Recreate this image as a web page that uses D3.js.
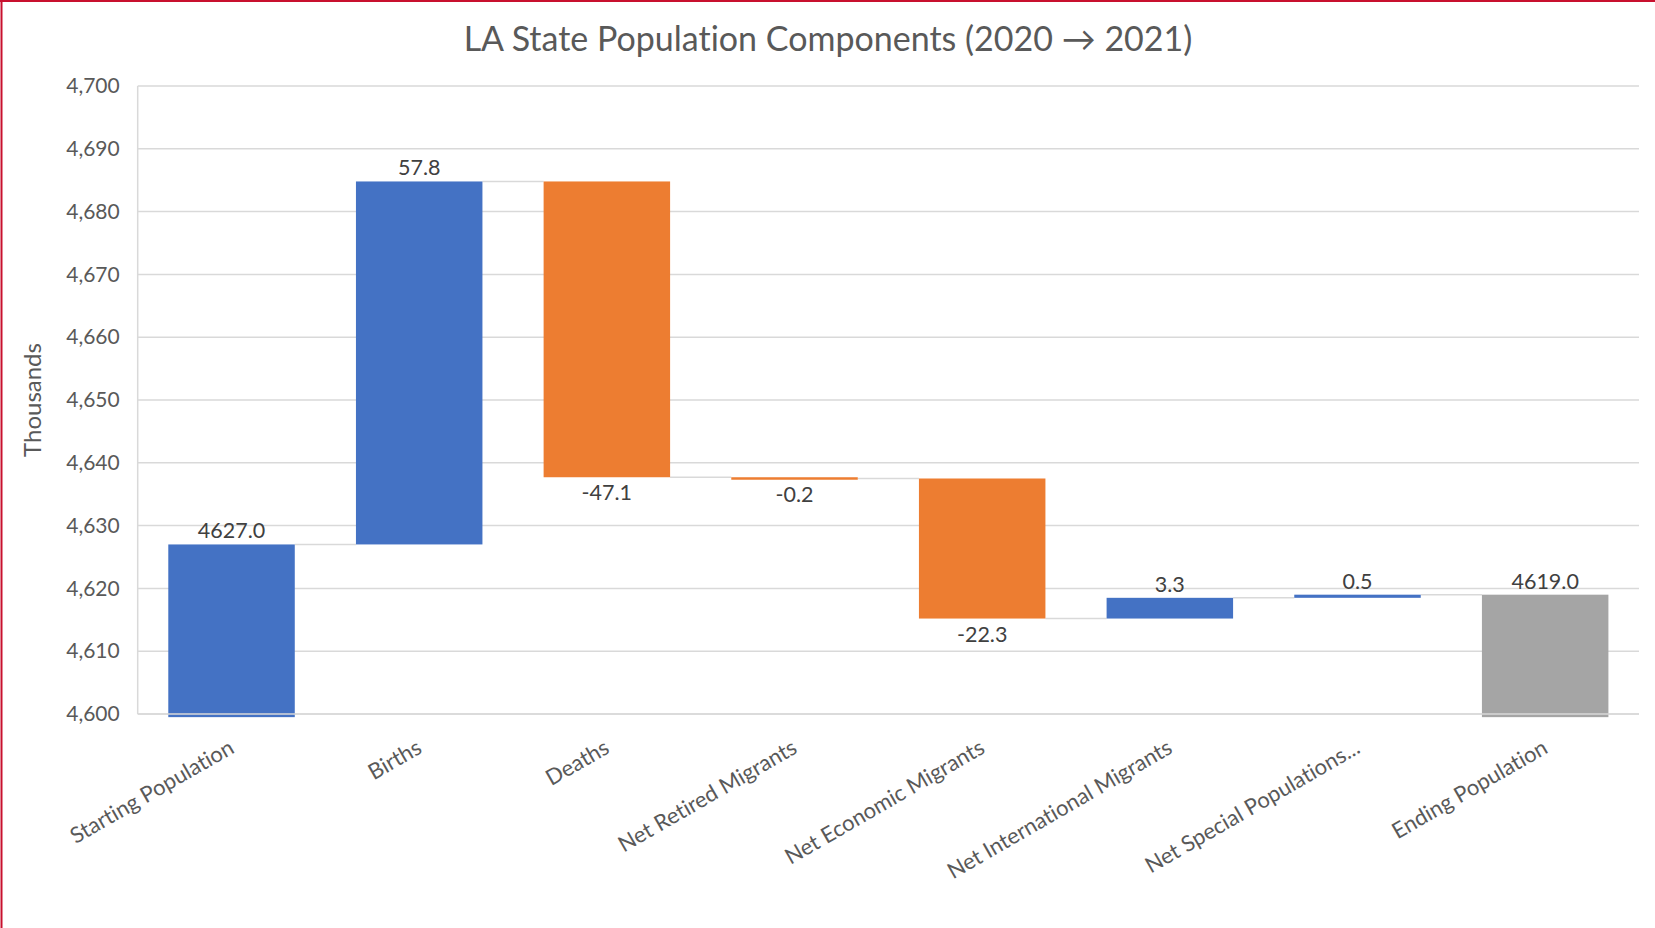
<!DOCTYPE html>
<html>
<head>
<meta charset="utf-8">
<script src="https://cdn.jsdelivr.net/npm/d3@7"></script>
<style>
  html, body { margin: 0; padding: 0; background: #fff; }
  svg { display: block; }
  text { font-family: Lato, "Open Sans", "Noto Sans", sans-serif; font-variant-ligatures: none; font-feature-settings: "liga" 0; }
</style>
</head>
<body>
<script>
const title = "LA State Population Components (2020 \u2192 2021)";
const yAxisTitle = "Thousands";
const categories = [
  "Starting Population", "Births", "Deaths", "Net Retired Migrants",
  "Net Economic Migrants", "Net International Migrants",
  "Net Special Populations...", "Ending Population"
];
const values = [4627.0, 57.8, -47.1, -0.2, -22.3, 3.3, 0.5, 4619.0];
const isTotal = [true, false, false, false, false, false, false, true];
const yTicks = [4600, 4610, 4620, 4630, 4640, 4650, 4660, 4670, 4680, 4690, 4700];
const yDomain = [4600, 4700];

const W = 1655, H = 928;
const margin = { left: 137.7, right: W - 1639, top: 86, bottom: H - 714 };
const colors = { up: "#4472C4", down: "#ED7D31", total: "#A5A5A5", first: "#4472C4" };

const svg = d3.select("body").append("svg").attr("width", W).attr("height", H);

// outer frame (top and left edges visible)
svg.append("line").attr("x1", 0).attr("x2", W).attr("y1", 1).attr("y2", 1)
  .attr("stroke", "#c8102e").attr("stroke-width", 2);
svg.append("line").attr("x1", 1.5).attr("x2", 1.5).attr("y1", 0).attr("y2", H)
  .attr("stroke", "#c8102e").attr("stroke-width", 2);

const x = d3.scaleBand().domain(categories)
  .range([margin.left, W - margin.right]).paddingInner(0.326).paddingOuter(0.163);
const y = d3.scaleLinear().domain(yDomain).range([H - margin.bottom, margin.top]);

// compute waterfall segments
let running = 0;
const segs = categories.map((c, i) => {
  const v = values[i];
  let lo, hi, col, start, end;
  if (isTotal[i]) {
    start = yDomain[0] - 0.5; end = v; running = v;
    col = i === 0 ? colors.first : colors.total;
  } else {
    start = running; end = running + v; running = end;
    col = v >= 0 ? colors.up : colors.down;
  }
  lo = Math.min(start, end); hi = Math.max(start, end);
  return { c, v, lo, hi, end, col, total: isTotal[i] };
});

// gridlines
const grid = svg.append("g");
grid.selectAll("line").data(yTicks).join("line")
  .attr("x1", margin.left).attr("x2", W - margin.right)
  .attr("y1", d => y(d)).attr("y2", d => y(d))
  .attr("stroke", "#d9d9d9").attr("stroke-width", 1.5);
grid.append("line")
  .attr("x1", margin.left).attr("x2", margin.left)
  .attr("y1", y(yDomain[1])).attr("y2", y(yDomain[0]))
  .attr("stroke", "#d9d9d9").attr("stroke-width", 1.5);

// y axis labels
const yAxis = d3.axisLeft(y).tickValues(yTicks).tickSize(0).tickPadding(18)
  .tickFormat(d3.format(","));
const ya = svg.append("g").attr("transform", `translate(${margin.left},0)`).call(yAxis);
ya.select(".domain").remove();
ya.selectAll("text").attr("font-size", 21).attr("fill", "#595959")
  .style("font-family", 'Lato, "Open Sans", sans-serif');

// connectors
const conn = svg.append("g");
segs.forEach((s, i) => {
  if (i === segs.length - 1) return;
  const lvl = s.end;
  conn.append("line")
    .attr("x1", x(s.c) + x.bandwidth()).attr("x2", x(segs[i + 1].c))
    .attr("y1", y(lvl)).attr("y2", y(lvl))
    .attr("stroke", "#d9d9d9").attr("stroke-width", 1.5);
});

// bars
svg.append("g").selectAll("rect").data(segs).join("rect")
  .attr("x", d => x(d.c)).attr("width", x.bandwidth())
  .attr("y", d => y(d.hi)).attr("height", d => Math.max(y(d.lo) - y(d.hi), 2.5))
  .attr("fill", d => d.col);

// baseline drawn over the total bars
svg.append("line")
  .attr("x1", margin.left).attr("x2", W - margin.right)
  .attr("y1", y(yDomain[0])).attr("y2", y(yDomain[0]))
  .attr("stroke", "#d9d9d9").attr("stroke-width", 1.5);

// data labels
svg.append("g").selectAll("text").data(segs).join("text")
  .attr("x", d => x(d.c) + x.bandwidth() / 2)
  .attr("y", d => (d.v >= 0 || d.total) ? y(d.hi) - 6 : y(d.lo) + 23)
  .attr("text-anchor", "middle").attr("font-size", 21.5).attr("fill", "#404040")
  .text(d => d.v.toFixed(1));

// category labels
svg.append("g").selectAll("text").data(categories).join("text")
  .attr("transform", d => `translate(${x(d) + x.bandwidth() / 2 + 4},${y(yDomain[0]) + 38}) rotate(-30)`)
  .attr("text-anchor", "end").attr("font-size", 22).attr("fill", "#595959")
  .text(d => d);

// axis title
svg.append("text")
  .attr("transform", `translate(41,${(y(yDomain[0]) + y(yDomain[1])) / 2}) rotate(-90)`)
  .attr("text-anchor", "middle").attr("font-size", 24).attr("fill", "#595959")
  .text(yAxisTitle);

// chart title
svg.append("text")
  .attr("x", 828).attr("y", 51)
  .attr("text-anchor", "middle").attr("font-size", 34).attr("fill", "#595959")
  .text(title);
</script>
</body>
</html>
